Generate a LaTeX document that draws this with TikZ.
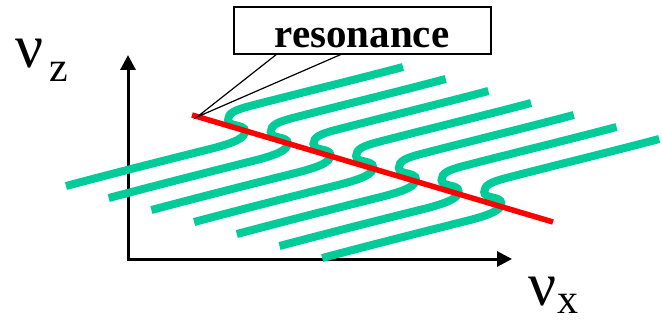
\documentclass[tikz,border=0pt]{standalone}
\usepackage{fontspec}
\setmainfont{Liberation Serif}
\usetikzlibrary{arrows.meta}
\definecolor{wavegreen}{RGB}{0,204,153}
\begin{document}
\begin{tikzpicture}[x=1pt,y=-1pt,
  wave/.style={draw=wavegreen, line width=8pt},
  resline/.style={draw=red, line width=5.5pt},
  axis/.style={draw=black, line width=3pt, {Triangle[length=15pt,width=15pt]}-{Triangle[length=15pt,width=15pt]}},
  callout/.style={draw=black, line width=1.2pt},
  lbl/.style={inner sep=0pt, anchor=base west},
  bigfont/.style={font=\fontsize{62}{62}\selectfont},
  subfont/.style={font=\fontsize{42}{42}\selectfont}]
\useasboundingbox (0,0) rectangle (662,321);
% axes
\coordinate (O) at (128,259);
\coordinate (ztip) at (128,55);
\coordinate (xtip) at (512,259);
\draw[axis] (ztip) -- (O) -- (xtip);
% curves
\foreach \k in {0,...,6}{
  \draw[wave, shift={(\k*42.7,\k*12)}] (66,186) .. controls (130,169) and (190,154) .. (214,148)
    .. controls (236,142) and (245,138) .. (245,131)
    .. controls (245,124) and (228,127) .. (228,120)
    .. controls (228,113) and (235,110) .. (250,106)
    .. controls (300,93) and (350,81) .. (403,67);
}
% resonance line
\coordinate (r1) at (192,115);
\coordinate (r2) at (553,222);
\draw[resline] (r1) -- (r2);
% callout
\node[draw, line width=1.2pt, minimum width=257pt, minimum height=47pt, inner sep=0pt, fill=white] (box) at (362.5,30.5) {};
\node[inner sep=0pt, anchor=base, font=\fontsize{41}{41}\selectfont\bfseries] (res) at (362,48) {resonance};
\coordinate (tip) at (197,117);
\coordinate (c1) at (277,54);
\coordinate (c2) at (342,54);
\draw[callout] (c1) -- (tip) -- (c2);
% labels
\node[lbl, bigfont] (nuz) at (15,68) {ν};
\node[lbl, subfont] (subz) at (49,82) {z};
\node[lbl, bigfont] (nux) at (528,305) {ν};
\node[lbl, subfont] (subx) at (557,313) {x};
\end{tikzpicture}
\end{document}
